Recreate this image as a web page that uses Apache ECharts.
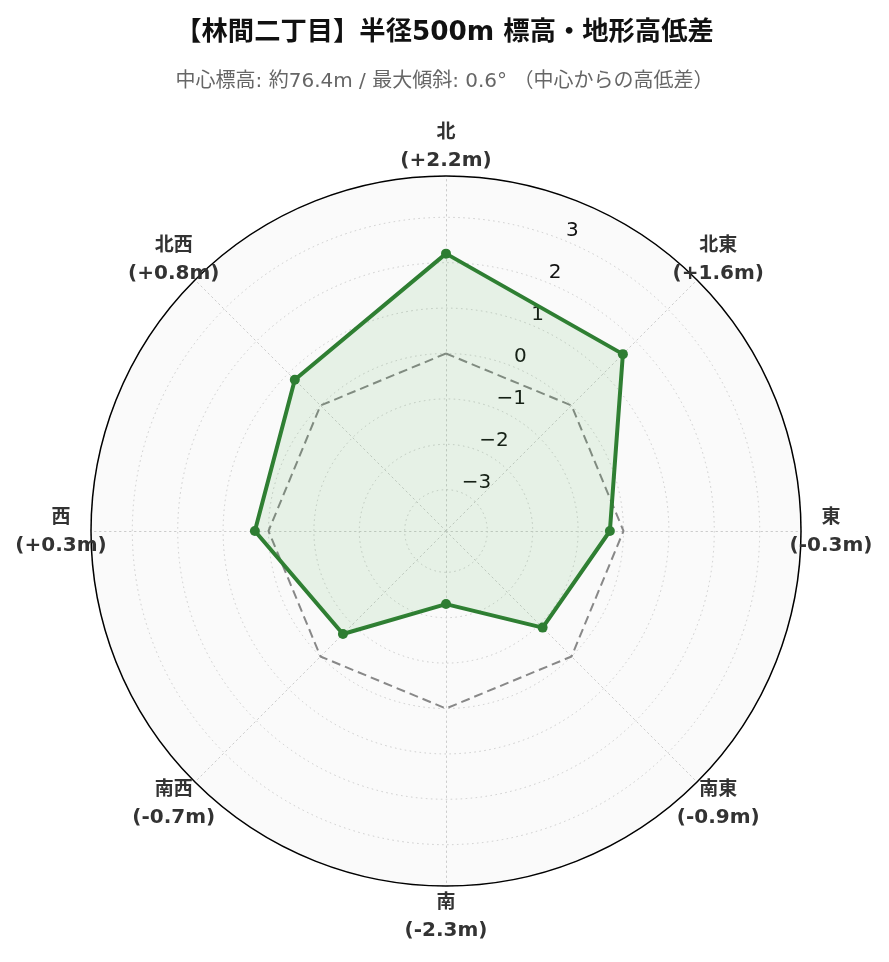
<!DOCTYPE html>
<html>
<head>
<meta charset="utf-8">
<script src="https://cdn.jsdelivr.net/npm/echarts@6/dist/echarts.min.js"></script>
<style>
html,body{margin:0;padding:0;background:#fff;}
#chart{width:889px;height:962px;}
</style>
</head>
<body>
<div id="chart"></div>
<script>
const titleText = '【林間二丁目】半径500m 標高・地形高低差';
const subtitleText = '中心標高: 約76.4m / 最大傾斜: 0.6° （中心からの高低差）';
// clockwise from north
const directions = ['北', '北東', '東', '南東', '南', '南西', '西', '北西'];
const diffs = [2.2, 1.6, -0.3, -0.9, -2.3, -0.7, 0.3, 0.8];
const baseline = [0, 0, 0, 0, 0, 0, 0, 0];
const rMin = -3.91;
const rMax = 3.91;

const fontLatin = '"DejaVu Sans", "Noto Sans CJK JP", sans-serif';
const fontCJK = '"Noto Sans CJK JP", "DejaVu Sans", sans-serif';

function fmt(v) {
  return '(' + (v >= 0 ? '+' : '-') + Math.abs(v).toFixed(1) + 'm)';
}

// ECharts radar runs counter-clockwise; reorder so the picture runs clockwise
const order = [0, 7, 6, 5, 4, 3, 2, 1];
function reorder(arr) { return order.map(function (i) { return arr[i]; }); }

const chart = echarts.init(document.getElementById('chart'));
const center = [446, 531];
const R = 355;

const option = {
  backgroundColor: '#ffffff',
  animation: false,
  title: [
    {
      text: titleText, left: 'center', top: 12,
      textStyle: { fontFamily: fontLatin, fontSize: 26.3, fontWeight: 'bold', color: '#111', lineHeight: 32 }
    },
    {
      text: subtitleText, left: 'center', top: 64,
      textStyle: { fontFamily: fontLatin, fontSize: 20, fontWeight: 'normal', color: '#666', lineHeight: 26 }
    }
  ],
  polar: { center: center, radius: R, z: 1 },
  angleAxis: {
    type: 'value', startAngle: 67.5, min: 0, max: 360, z: 0,
    axisLine: { show: false }, axisTick: { show: false }, axisLabel: { show: false }, splitLine: { show: false },
    splitArea: { show: true, areaStyle: { color: ['#fafafa'] } }
  },
  radiusAxis: {
    type: 'value', min: rMin, max: rMax, splitNumber: 8, z: 1,
    axisLine: { show: false }, axisTick: { show: false },
    splitArea: { show: false },
    splitLine: { show: true, lineStyle: { color: '#cccccc', width: 1, type: [1.5, 3.5] } },
    axisLabel: {
      show: true, margin: 0, align: 'left', verticalAlign: 'bottom',
      showMinLabel: false, showMaxLabel: false,
      fontFamily: fontLatin, fontSize: 20, color: '#111',
      formatter: function (v) { return v < 0 ? '\u2212' + Math.abs(v) : String(v); }
    }
  },
  radar: {
    z: 3,
    center: center,
    radius: R,
    shape: 'circle',
    startAngle: 90,
    splitNumber: 1,
    nameGap: 30,
    indicator: reorder(directions).map(function (d) { return { name: d, min: rMin, max: rMax }; }),
    axisName: {
      align: 'center',
      verticalAlign: 'middle',
      formatter: function (name) {
        const i = directions.indexOf(name);
        return '{a|' + name + '}\n{b|' + fmt(diffs[i]) + '}';
      },
      rich: {
        a: { fontFamily: fontCJK, fontSize: 19, fontWeight: 'bold', color: '#333', lineHeight: 30, align: 'center' },
        b: { fontFamily: fontLatin, fontSize: 20, fontWeight: 'bold', color: '#333', lineHeight: 30, align: 'center' }
      }
    },
    axisLine: { lineStyle: { color: '#cccccc', width: 1, type: [1.5, 3.5] } },
    splitLine: { lineStyle: { color: '#000000', width: 1.5 } },
    splitArea: { show: false }
  },
  series: [
    {
      type: 'radar', z: 4,
      symbol: 'none',
      data: [{
        value: reorder(baseline),
        lineStyle: { color: '#888888', width: 2, type: [9, 5] },
        areaStyle: { opacity: 0 }
      }]
    },
    {
      type: 'radar', z: 5,
      symbol: 'circle', symbolSize: 10,
      data: [{
        value: reorder(diffs),
        itemStyle: { color: '#2e7d32' },
        lineStyle: { color: '#2e7d32', width: 4 },
        areaStyle: { color: 'rgba(63,170,63,0.15)' }
      }]
    }
  ]
};
chart.setOption(option);
</script>
</body>
</html>
